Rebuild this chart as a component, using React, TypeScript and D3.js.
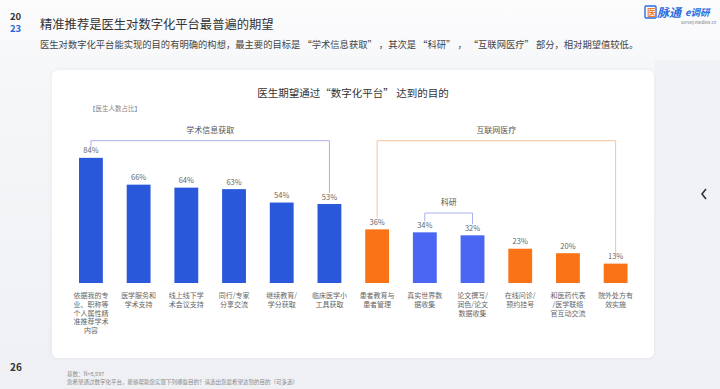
import React from "react";
import * as d3 from "d3";

const categories: string[][] = [
  ["依据我的专", "业、职称等", "个人属性精", "准推荐学术", "内容"],
  ["医学服务和", "学术支持"],
  ["线上线下学", "术会议支持"],
  ["同行/专家", "分享交流"],
  ["继续教育/", "学分获取"],
  ["临床医学小", "工具获取"],
  ["患者教育与", "患者管理"],
  ["真实世界数", "据收集"],
  ["论文撰写/", "润色/论文", "数据收集"],
  ["在线问诊/", "预约挂号"],
  ["和医药代表", "/医学联络", "官互动交流"],
  ["院外处方有", "效实施"],
];
const values: number[] = [84, 66, 64, 63, 54, 53, 36, 34, 32, 23, 20, 13];
const groups: string[] = [
  "academic", "academic", "academic", "academic", "academic", "academic",
  "internet", "research", "research", "internet", "internet", "internet",
];
const bracketLabels: string[] = ["学术信息获取", "互联网医疗", "科研"];
const bracketGroups: string[] = ["academic", "internet", "research"];
const bracketFrom: number[] = [0, 6, 7];
const bracketTo: number[] = [5, 11, 8];

const colors: Record<string, string> = {
  academic: "#2a58db",
  research: "#4a66f2",
  internet: "#fa7417",
};
const bracketColors: Record<string, string> = {
  academic: "#aab0ec",
  research: "#aab0ec",
  internet: "#f6c29c",
};

const FONT = "'Noto Sans CJK SC', 'Noto Sans', sans-serif";

export default function App() {
  const W = 720;
  const H = 389;
  const idx = values.map((_, i) => String(i));
  const x = d3.scaleBand<string>().domain(idx).range([55.15, 651.4]).padding(0.5);
  const y = d3.scaleLinear().domain([0, 100]).range([283, 134]);
  const bw = x.bandwidth();
  const cx = (i: number) => (x(String(i)) as number) + bw / 2;

  const bracketLineY = [140.7, 140.7, 213];

  return (
    <div style={{ position: "fixed", left: 0, top: 0, width: W, height: H }}>
      <svg width={W} height={H} style={{ display: "block", fontFamily: FONT }}>
        <defs>
          <linearGradient id="bg" x1="0" y1="0" x2="0" y2="1">
            <stop offset="0" stopColor="#fcfcfd" />
            <stop offset="0.18" stopColor="#f6f7f9" />
            <stop offset="1" stopColor="#eef0f4" />
          </linearGradient>
          <filter id="sh" x="-5%" y="-5%" width="110%" height="110%">
            <feDropShadow dx="0" dy="0" stdDeviation="2" floodColor="#c8ccd6" floodOpacity="0.35" />
          </filter>
        </defs>
        <rect x={0} y={0} width={W} height={H} fill="url(#bg)" />
        <rect x={655} y={60} width={65} height={300} fill="#f1f2f6" />

        {/* header */}
        <text x={10} y={19.5} fontSize={9.5} fontWeight="bold" fill="#333">20</text>
        <text x={10} y={32} fontSize={9.5} fontWeight="bold" fill="#2a62e0">23</text>
        <text x={40} y={29} fontSize={12.3} fill="#333">精准推荐是医生对数字化平台最普遍的期望</text>
        <text x={40} y={47.5} fontSize={9.3} fill="#444">
          医生对数字化平台能实现的目的有明确的构想，最主要的目标是 “学术信息获取” ，其次是 “科研” ， “互联网医疗” 部分，相对期望值较低。
        </text>

        {/* logo */}
        <rect x={645} y={6} width={11} height={12} fill="none" stroke="#2b6be0" strokeWidth={1.4} rx={1} />
        <text x={647} y={16} fontSize={9} fontWeight="bold" fill="#f08020">医</text>
        <text x={657} y={17} fontSize={12} fontWeight="bold" fontStyle="italic" fill="#2b6be0">脉通</text>
        <text x={685} y={16} fontSize={9.5} fontWeight="bold" fontStyle="italic" fill="#2b6be0">e调研</text>
        <text x={681} y={23.5} fontSize={4.2} fill="#777">survey.medlive.cn</text>

        {/* card */}
        <rect x={52} y={70} width={602} height={288} rx={6} fill="#ffffff" filter="url(#sh)" />

        <text x={353} y={97} fontSize={10.5} fill="#333" textAnchor="middle">
          医生期望通过“数字化平台” 达到的目的
        </text>
        <text x={89} y={110.5} fontSize={6.5} fill="#888">【医生人数占比】</text>

        {/* brackets */}
        {bracketLabels.map((lab, b) => {
          const g = bracketGroups[b];
          const x0 = cx(bracketFrom[b]);
          const x1 = cx(bracketTo[b]);
          const ly = bracketLineY[b];
          const e0 = y(values[bracketFrom[b]]) - 11;
          const e1 = y(values[bracketTo[b]]) - 11;
          return (
            <g key={lab}>
              <path
                d={`M${x0},${e0}V${ly}H${x1}V${e1}`}
                fill="none"
                stroke={bracketColors[g]}
                strokeWidth={1}
              />
              <text x={(x0 + x1) / 2} y={ly - 8} fontSize={8} fill="#555" textAnchor="middle">
                {lab}
              </text>
            </g>
          );
        })}

        {/* bars */}
        {values.map((v, i) => (
          <g key={i}>
            <rect
              x={x(String(i))}
              y={y(v)}
              width={bw}
              height={y(0) - y(v)}
              fill={colors[groups[i]]}
            />
            <text x={cx(i)} y={y(v) - 4.5} fontSize={7.5} fill="#666" textAnchor="middle">
              {v}%
            </text>
            <text x={cx(i)} y={298.3} fontSize={7} fill="#666" textAnchor="middle">
              {categories[i].map((line, k) => (
                <tspan key={k} x={cx(i)} dy={k === 0 ? 0 : 8.6}>
                  {line}
                </tspan>
              ))}
            </text>
          </g>
        ))}

        {/* nav arrow */}
        <path d="M706,189 L702,194 L706,199" fill="none" stroke="#333" strokeWidth={1.6} />

        {/* footer */}
        <text x={10} y={371} fontSize={10} fontWeight="bold" fill="#333">26</text>
        <text x={67} y={376} fontSize={5.5} fill="#888">基数：N=8,597</text>
        <text x={67} y={384} fontSize={5.5} fill="#888">
          您希望通过数字化平台，能够帮助您实现下列哪些目的？请选出您最希望达到的目的（可多选）
        </text>
      </svg>
    </div>
  );
}
